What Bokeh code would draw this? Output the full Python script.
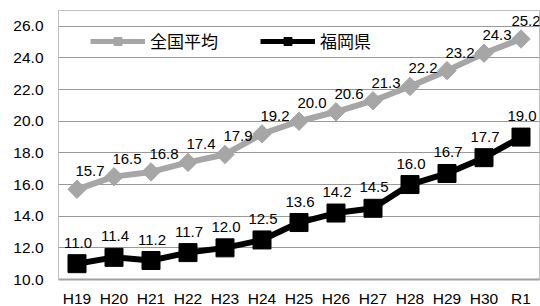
from bokeh.plotting import figure
from bokeh.models import Range1d, FactorRange, Legend, LegendItem, FixedTicker, ColumnDataSource
from bokeh.embed import file_html
from bokeh.resources import INLINE
from bokeh.core.properties import value
import numpy as np

categories = ["H19", "H20", "H21", "H22", "H23", "H24", "H25", "H26", "H27", "H28", "H29", "H30", "R1"]
national = [15.7, 16.5, 16.8, 17.4, 17.9, 19.2, 20.0, 20.6, 21.3, 22.2, 23.2, 24.3, 25.2]
fukuoka = [11.0, 11.4, 11.2, 11.7, 12.0, 12.5, 13.6, 14.2, 14.5, 16.0, 16.7, 17.7, 19.0]
y_ticks = [10, 12, 14, 16, 18, 20, 22, 24, 26]
series_names = ["全国平均", "福岡県"]

GRAY = "#a6a6a6"
NUM_FONT = "Liberation Sans"
JP_FONT = "Noto Sans CJK JP"

p = figure(frame_width=481, frame_height=269, x_range=FactorRange(*categories), y_range=Range1d(10, 27),
           output_backend="svg", toolbar_location=None,
           min_border_left=58, min_border_right=1, min_border_top=10, min_border_bottom=27)

p.outline_line_color = "#c0c0c0"
p.outline_line_width = 1
p.xgrid.grid_line_color = None
p.ygrid.grid_line_color = "#999999"
p.ygrid.grid_line_width = 1
p.yaxis.ticker = FixedTicker(ticks=y_ticks)
p.yaxis.major_label_overrides = {t: f"{t:.1f}" for t in y_ticks}
p.yaxis.axis_line_color = None
p.yaxis.major_tick_line_color = None
p.yaxis.minor_tick_line_color = None
p.yaxis.major_tick_out = 0
p.yaxis.major_label_standoff = 15
p.yaxis.major_label_text_font = NUM_FONT
p.yaxis.major_label_text_font_size = "15.5px"
p.yaxis.major_label_text_color = "#000000"

p.xaxis.axis_line_color = "#a0a0a0"
p.xaxis.axis_line_width = 2
p.xaxis.major_tick_line_color = None
p.xaxis.minor_tick_line_color = None
p.xaxis.major_tick_out = 0
p.xaxis.major_label_standoff = 10
p.xaxis.major_label_text_font = NUM_FONT
p.xaxis.major_label_text_font_size = "15.5px"
p.xaxis.major_label_text_color = "#000000"

n = len(categories)
nat_dx = [13] * (n - 1) + [5]

src = ColumnDataSource(dict(cat=categories, nat=national, fuk=fukuoka,
                            nat_lbl=[f"{v:.1f}" for v in national],
                            fuk_lbl=[f"{v:.1f}" for v in fukuoka],
                            nat_dx=nat_dx))

p.line("cat", "nat", source=src, line_color=GRAY, line_width=6)
p.scatter("cat", "nat", source=src, marker="square", angle=np.pi / 4, size=13,
          fill_color=GRAY, line_color=GRAY)
p.line("cat", "fuk", source=src, line_color="black", line_width=6)
p.scatter("cat", "fuk", source=src, marker="square", size=18, fill_color="black", line_color="black")

p.text("cat", "nat", text="nat_lbl", source=src, x_offset="nat_dx", y_offset=-18,
       text_align="center", text_baseline="middle", text_font=value(NUM_FONT),
       text_font_size="15px", text_color="black")
p.text("cat", "fuk", text="fuk_lbl", source=src, x_offset=1, y_offset=-21,
       text_align="center", text_baseline="middle", text_font=value(NUM_FONT),
       text_font_size="15px", text_color="black")

# legend-only renderers, placed below the visible y range
off = [categories[0]]
lg1 = p.line(x=off, y=[0], line_color=GRAY, line_width=5)
lg1m = p.scatter(x=off, y=[0], marker="square", angle=np.pi / 4, size=6, fill_color=GRAY, line_color=GRAY)
lg2 = p.line(x=off, y=[0], line_color="black", line_width=5)
lg2m = p.scatter(x=off, y=[0], marker="square", size=9, fill_color="black", line_color="black")

legend = Legend(items=[LegendItem(label=series_names[0], renderers=[lg1, lg1m]),
                       LegendItem(label=series_names[1], renderers=[lg2, lg2m])],
                location=(32, 226), orientation="horizontal",
                glyph_width=55, glyph_height=20, label_height=20, label_standoff=5,
                spacing=42, padding=0, margin=0,
                background_fill_alpha=0, border_line_color=None,
                label_text_font=JP_FONT, label_text_font_size="17px", label_text_color="black")
p.add_layout(legend, "center")

open("out.html", "w").write(file_html(p, INLINE))
